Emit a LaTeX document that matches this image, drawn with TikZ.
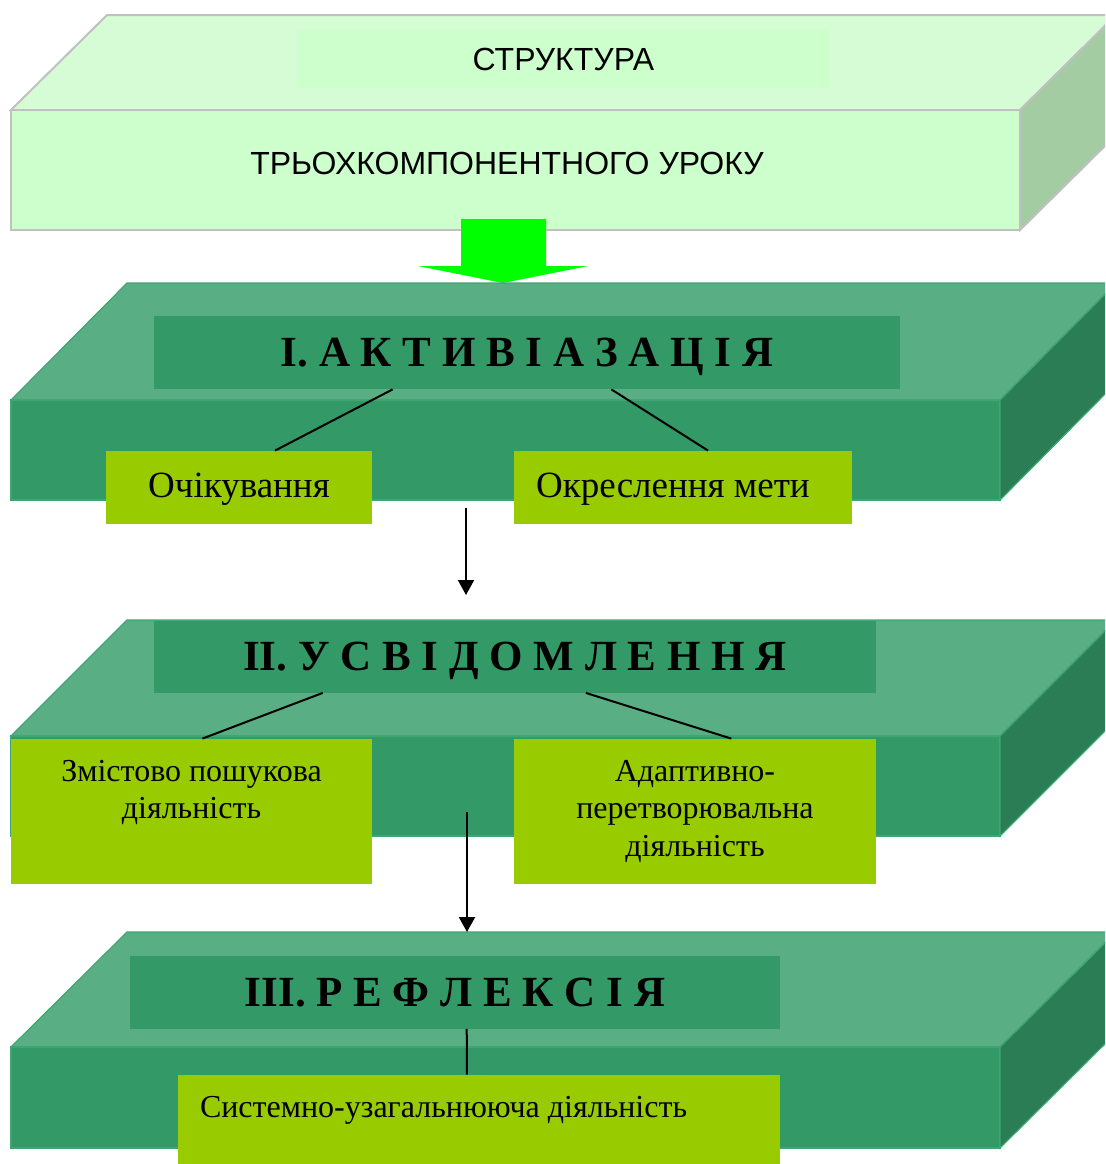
\documentclass[tikz,border=0pt]{standalone}
\usepackage{fontspec}
\setmainfont{Liberation Serif}
\newfontfamily\arialfont{Liberation Sans}
\usepackage{tikz}
\usetikzlibrary{positioning}
\usetikzlibrary{calc}
\usetikzlibrary{arrows.meta}
\usepackage{xcolor}
\definecolor{palegreen}{HTML}{CCFFCC}
\definecolor{paletop}{HTML}{D6FCD6}
\definecolor{paleside}{HTML}{A3CCA3}
\definecolor{paleedge}{HTML}{C0C0C0}
\definecolor{seagreen}{HTML}{339966}
\definecolor{seatop}{HTML}{5AAE84}
\definecolor{seaside}{HTML}{2A7D55}
\definecolor{seaedge}{HTML}{3FA572}
\definecolor{limegreen}{HTML}{99CC00}
\definecolor{brightgreen}{HTML}{00FF00}

\begin{document}
\begin{tikzpicture}[x=0.5pt,y=-0.5pt,
  titlebox/.style={fill=seagreen,minimum height=36.5pt,inner sep=0pt,text height=14.2pt,text depth=0pt,font=\fontsize{21.5}{24}\selectfont\bfseries},
  subbox/.style={fill=limegreen,inner sep=0pt},
  link/.style={line width=1pt},
  slab/.style={draw=seaedge,line width=0.6pt}]
\useasboundingbox (0,0) rectangle (1105,1164);
\clip (0,0) rectangle (1105,1164);

% top slab
\draw[paleedge,line width=1pt,fill=paletop] (11,110) -- ++(96,-95) -- ++(1009,0) -- ++(-96,95) -- cycle;
\draw[paleedge,line width=1pt,fill=palegreen] (11,110) rectangle (1020,230);
\draw[paleedge,line width=1pt,fill=paleside] (1020,110) -- ++(96,-95) -- ++(0,120) -- ++(-96,95) -- cycle;
\node[fill=palegreen,minimum width=265.5pt,minimum height=29pt,font=\arialfont\fontsize{16}{19}\selectfont] (struct) at (563.5,59) {СТРУКТУРА};
\node[font=\arialfont\fontsize{16}{19}\selectfont] (lesson) at (507,163) {ТРЬОХКОМПОНЕНТНОГО УРОКУ};

\fill[brightgreen] (461,219) -- (546,219) -- (546,266) -- (588,266) -- (503,283) -- (418,266) -- (461,266) -- cycle;

% slab I
\draw[slab,fill=seatop] (11,400) -- ++(116,-117) -- ++(989,0) -- ++(-116,117) -- cycle;
\draw[slab,fill=seagreen] (11,400) rectangle (1000,500);
\draw[slab,fill=seaside] (1000,400) -- ++(116,-117) -- ++(0,100) -- ++(-116,117) -- cycle;
\node[titlebox,minimum width=373pt] (act) at (527,352.5) {І. А К Т И В І А З А Ц І Я};
\node[subbox,minimum width=133pt,minimum height=36.5pt,font=\fontsize{18.5}{22}\selectfont,text depth=2pt] (expect) at (239,487.5) {Очікування};
\node[subbox,minimum width=169pt,minimum height=36.5pt] (goal) at (683,487.5) {};
\node[inner sep=0pt,font=\fontsize{18.5}{22}\selectfont,text depth=2pt] (goaltext) at ($(goal.center)+(-10,0)$) {Окреслення мети};
\draw[link] ($(act.south west)!.32!(act.south east)$) -- ($(expect.north west)!.635!(expect.north east)$);
\draw[link] ($(act.south west)!.613!(act.south east)$) -- ($(goal.north west)!.574!(goal.north east)$);

% slab II
\draw[slab,fill=seatop] (11,736) -- ++(116,-116) -- ++(989,0) -- ++(-116,116) -- cycle;
\draw[slab,fill=seagreen] (11,736) rectangle (1000,836);
\draw[slab,fill=seaside] (1000,736) -- ++(116,-116) -- ++(0,100) -- ++(-116,116) -- cycle;
\node[titlebox,minimum width=361pt,minimum height=36pt] (aware) at (515,656.5) {ІІ. У С В І Д О М Л Е Н Н Я};
\node[subbox,minimum width=180.5pt,minimum height=72.5pt] (search) at (191.5,811.5) {};
\node[below=10.5pt of search.north,inner sep=0pt,align=center,font=\fontsize{16}{18.75}\selectfont] (searchtext) {Змістово пошукова\\діяльність};
\node[subbox,minimum width=181pt,minimum height=72.5pt] (adapt) at (695,811.5) {};
\node[below=10.5pt of adapt.north,inner sep=0pt,align=center,font=\fontsize{16}{18.75}\selectfont] (adapttext) {Адаптивно-\\перетворювальна\\діяльність};
\draw[link] ($(aware.south west)!.234!(aware.south east)$) -- ($(search.north west)!.53!(search.north east)$);
\draw[link] ($(aware.south west)!.598!(aware.south east)$) -- ($(adapt.north west)!.6!(adapt.north east)$);

% slab III
\draw[slab,fill=seatop] (11,1047) -- ++(116,-115) -- ++(989,0) -- ++(-116,115) -- cycle;
\draw[slab,fill=seagreen] (11,1047) rectangle (1000,1148);
\draw[slab,fill=seaside] (1000,1047) -- ++(116,-115) -- ++(0,101) -- ++(-116,115) -- cycle;
\node[titlebox,minimum width=325pt] (refl) at (455,992) {ІІІ. Р Е Ф Л Е К С І Я};
\node[subbox,minimum width=301pt,minimum height=50pt] (system) at (479,1125) {};
\node[anchor=west,inner sep=0pt,font=\fontsize{16}{18.5}\selectfont] (systemtext) at ($(system.north west)+(22,36)$) {Системно-узагальнююча діяльність};
\draw[link] ($(refl.south west)!.518!(refl.south east)$) -- ($(system.north west)!.48!(system.north east)$);

% arrows between slabs
\coordinate (down1) at (466,508);
\coordinate (up2) at (466,595);
\coordinate (down2) at (467,812);
\coordinate (up3) at (467,932);
\draw[link,-{Triangle[width=8pt,length=7.5pt]}] (down1) -- (up2);
\draw[link,-{Triangle[width=8pt,length=7.5pt]}] (down2) -- (up3);
\end{tikzpicture}
\end{document}
